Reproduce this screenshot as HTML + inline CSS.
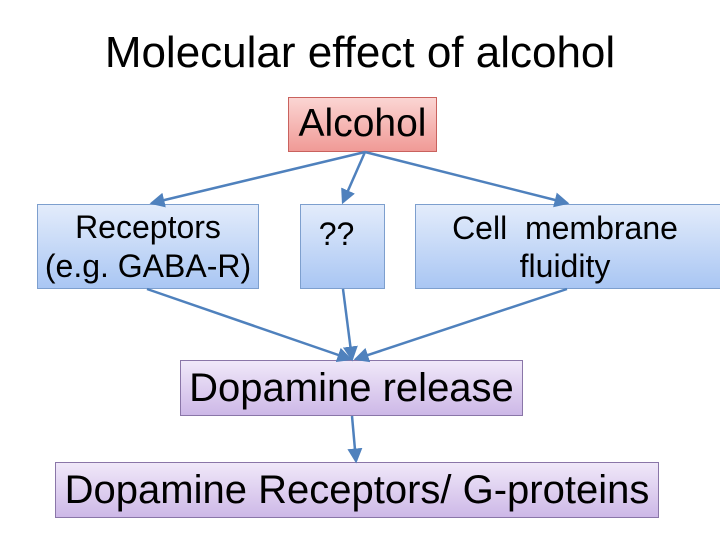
<!DOCTYPE html>
<html><head><style>
body{margin:0;width:720px;height:540px;background:#fff;position:relative;overflow:hidden;font-family:"Liberation Sans",sans-serif;}
.b{position:absolute;box-sizing:border-box;display:flex;align-items:center;justify-content:center;text-align:center;color:#000;line-height:1.2;}
.bl{background:linear-gradient(#e3ecfb,#a9c6f3);border:1px solid #7d9fce;}
.pu{background:linear-gradient(#f0e8f9,#cdb8e7);border:1px solid #8a76a8;}
</style></head><body>
<div style="position:absolute;left:0;width:720px;top:28px;text-align:center;font-size:44px;">Molecular effect of alcohol</div>
<div class="b" style="left:288px;top:97px;width:149px;height:55px;background:linear-gradient(#fbd5d3,#f09a96);border:1px solid #c9625e;font-size:39px;">Alcohol</div>
<div class="b bl" style="left:37px;top:204px;width:222px;height:85px;font-size:32px;">Receptors<br>(e.g. GABA-R)</div>
<div class="b bl" style="left:300px;top:204px;width:85px;height:85px;font-size:32px;align-items:flex-start;padding-top:10px;padding-right:12px;">??</div>
<div class="b bl" style="left:415px;top:204px;width:310px;height:85px;font-size:32px;align-items:flex-start;padding-top:4px;padding-right:10px;">Cell&nbsp; membrane<br>fluidity</div>
<div class="b pu" style="left:180px;top:360px;width:343px;height:56px;font-size:40px;">Dopamine release</div>
<div class="b pu" style="left:55px;top:462px;width:604px;height:56px;font-size:40px;">Dopamine Receptors/ G-proteins</div>
<svg width="720" height="540" style="position:absolute;left:0;top:0" fill="none" stroke="#4f81bd" stroke-width="2.5">
<defs><marker id="a" markerWidth="6" markerHeight="6" refX="5" refY="3" orient="auto"><path d="M0,0L6,3L0,6Z" fill="#4f81bd" stroke="none"/></marker></defs>
<g marker-end="url(#a)">
<line x1="365" y1="152" x2="152" y2="203"/>
<line x1="365" y1="152" x2="343" y2="202"/>
<line x1="365" y1="152" x2="567" y2="203"/>
<line x1="147" y1="289" x2="350" y2="359"/>
<line x1="343" y1="289" x2="352" y2="359"/>
<line x1="567" y1="289" x2="356" y2="359"/>
<line x1="352" y1="416" x2="356" y2="461"/>
</g></svg>
</body></html>
